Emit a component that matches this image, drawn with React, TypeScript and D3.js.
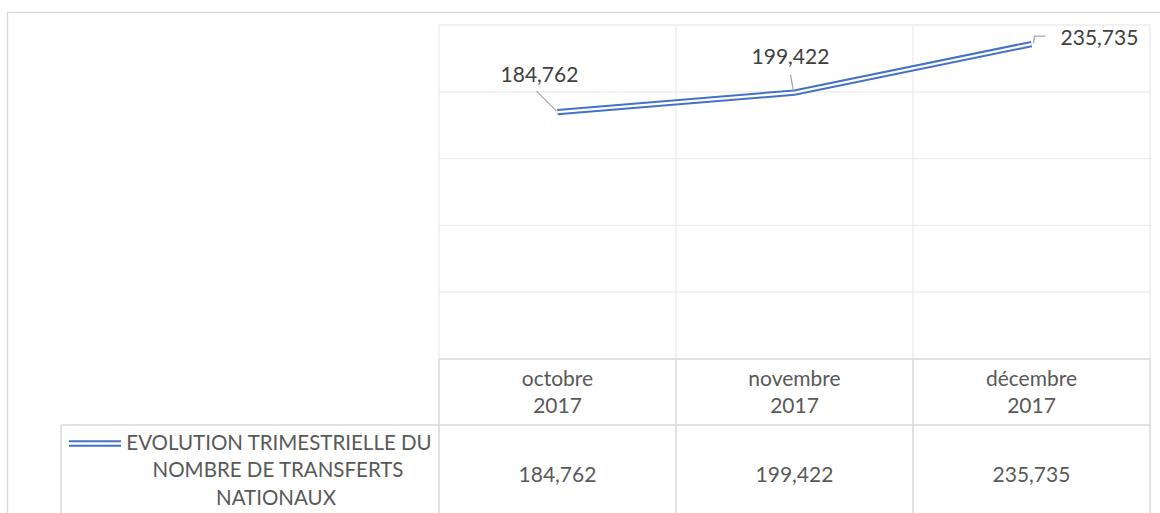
import React from "react";
import * as d3 from "d3";

const categories = ["octobre 2017", "novembre 2017", "décembre 2017"];
const catLine1 = ["octobre", "novembre", "décembre"];
const catLine2 = ["2017", "2017", "2017"];
const values = [184762, 199422, 235735];
const seriesName = ["EVOLUTION TRIMESTRIELLE DU", "NOMBRE DE TRANSFERTS", "NATIONAUX"];
const yMax = 250000;

// label placement (relative to point): label center dx, baseline dy, leader path
const labelOffsets = [
  { dx: -18, dy: -30, leader: [[-21, -21], [-1, -1]] },
  { dx: -4, dy: -29, leader: [[-4, -18], [-1, -1]] },
  { dx: 68, dy: 1, leader: [[14, -8], [3, -8], [2, -1]] },
];

const W = 1160;
const H = 513;
const plotL = 439;
const plotR = 1150;
const plotT = 25;
const plotB = 359;
const rowH = 425;
const legendL = 61;

const fmt = d3.format(",");
const FONT = "Lato, 'Open Sans', sans-serif";
const BLUE = "#4472C4";

export default function App() {
  const x = d3.scaleBand<string>().domain(categories).range([plotL, plotR]).padding(0);
  const y = d3.scaleLinear().domain([0, yMax]).range([plotB, plotT]);
  const gridTicks = y.ticks(5);
  const pts: [number, number][] = values.map((v, i) => [
    (x(categories[i]) as number) + x.bandwidth() / 2,
    y(v),
  ]);
  const line = d3.line();
  const linePath = line(pts) as string;
  const bounds = [plotL, ...categories.map((c) => (x(c) as number) + x.bandwidth())];

  return (
    <svg
      width={W}
      height={H}
      style={{ position: "absolute", left: 0, top: 0, background: "#fff" }}
      fontFamily={FONT}
    >
      <rect x={0} y={0} width={W} height={H} fill="#fff" />
      {/* outer chart border */}
      <rect x={7.5} y={12.5} width={W + 10} height={H + 10} fill="none" stroke="#d9d9d9" strokeWidth={1.3} />

      {/* horizontal gridlines */}
      {gridTicks
        .filter((t) => t > 0)
        .map((t) => (
          <line key={"g" + t} x1={plotL} x2={plotR} y1={y(t)} y2={y(t)} stroke="#ececec" strokeWidth={1.3} />
        ))}
      {/* vertical gridlines in plot */}
      {bounds.map((bx, i) => (
        <line key={"v" + i} x1={bx} x2={bx} y1={plotT} y2={plotB} stroke="#ececec" strokeWidth={1.3} />
      ))}

      {/* data table lines */}
      <line x1={plotL} x2={plotR} y1={plotB} y2={plotB} stroke="#d9d9d9" strokeWidth={1.5} />
      <line x1={legendL} x2={plotR} y1={rowH} y2={rowH} stroke="#d9d9d9" strokeWidth={1.5} />
      <line x1={legendL} x2={legendL} y1={rowH} y2={H + 5} stroke="#d9d9d9" strokeWidth={1.5} />
      {bounds.map((bx, i) => (
        <line key={"tv" + i} x1={bx} x2={bx} y1={plotB} y2={H + 5} stroke="#d9d9d9" strokeWidth={1.5} />
      ))}

      {/* header cells */}
      {categories.map((c, i) => {
        const cx = (x(c) as number) + x.bandwidth() / 2;
        return (
          <g key={"h" + i} fill="#595959" fontSize={21} textAnchor="middle">
            <text x={cx} y={386}>{catLine1[i]}</text>
            <text x={cx} y={413}>{catLine2[i]}</text>
            <text x={cx} y={482}>{fmt(values[i])}</text>
          </g>
        );
      })}

      {/* legend key in table */}
      <line x1={69} x2={121} y1={443.5} y2={443.5} stroke={BLUE} strokeWidth={6.5} />
      <line x1={68} x2={122} y1={443.5} y2={443.5} stroke="#fff" strokeWidth={2.6} />
      <g fill="#595959" fontSize={20.5} textAnchor="middle">
        <text x={279} y={449.5}>{seriesName[0]}</text>
        <text x={278} y={477}>{seriesName[1]}</text>
        <text x={276} y={504.5}>{seriesName[2]}</text>
      </g>

      {/* compound (double) line */}
      <path d={linePath} fill="none" stroke={BLUE} strokeWidth={6.3} strokeLinejoin="miter" />
      <path d={linePath} fill="none" stroke="#fff" strokeWidth={2.3} strokeLinejoin="miter" />

      {/* leader lines and labels */}
      {pts.map(([px, py], i) => {
        const o = labelOffsets[i];
        const lp = o.leader.map(([dx, dy]) => [px + dx, py + dy] as [number, number]);
        return (
          <g key={"l" + i}>
            <path d={d3.line()(lp) as string} fill="none" stroke="#a6a6a6" strokeWidth={1.3} />
            <text x={px + o.dx} y={py + o.dy} fill="#404040" fontSize={21} textAnchor="middle">
              {fmt(values[i])}
            </text>
          </g>
        );
      })}
    </svg>
  );
}
